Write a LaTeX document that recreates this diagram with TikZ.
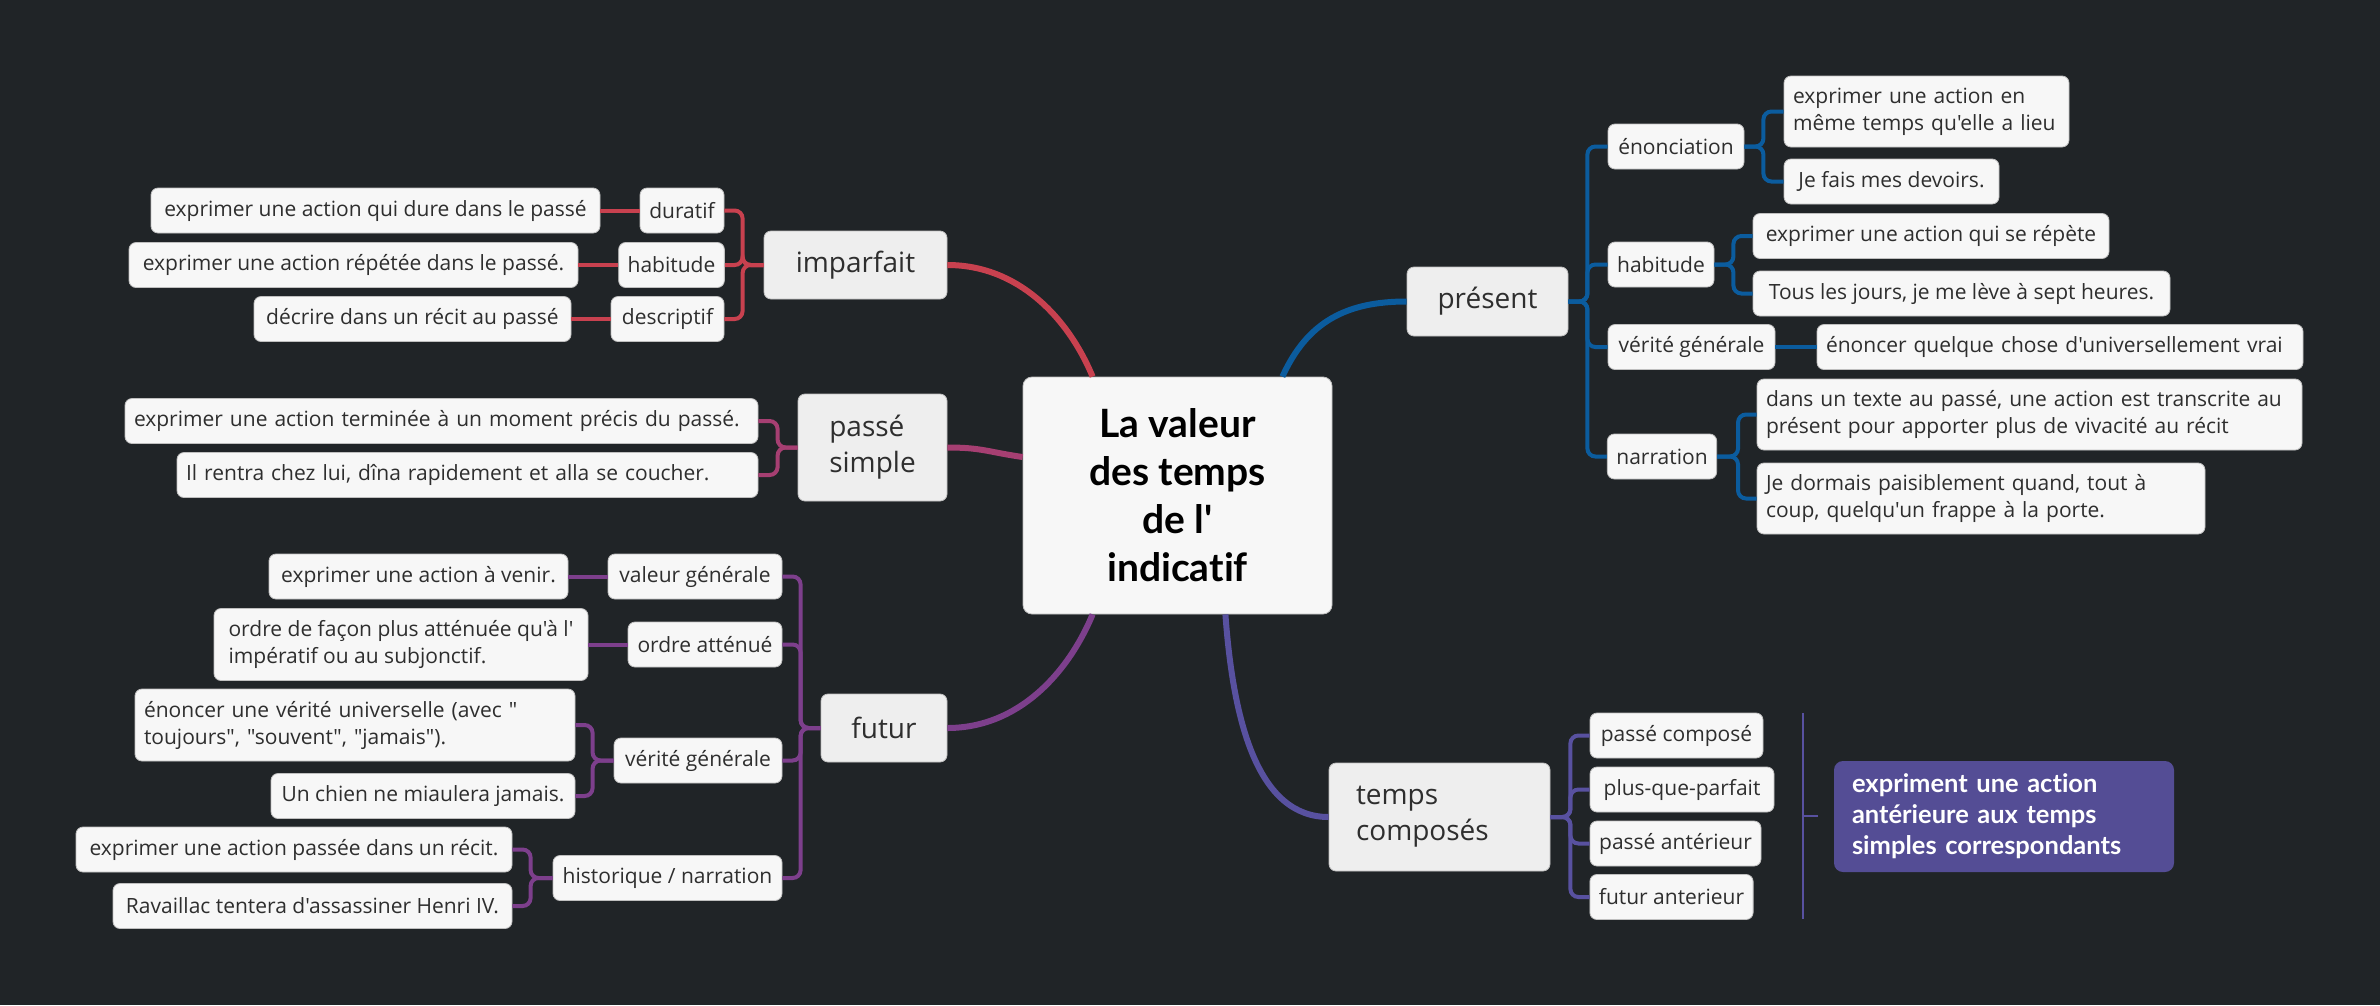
\documentclass[tikz,border=0pt]{standalone}
\usepackage{fontspec}
\usepackage{xcolor}
\newfontfamily\opensans{Open Sans}
\newfontfamily\lato[Ligatures=NoCommon]{Lato}
\definecolor{bgdark}{HTML}{202427}
\definecolor{leafbg}{HTML}{F7F7F7}
\definecolor{topicbg}{HTML}{EEEEEE}
\definecolor{ink}{HTML}{2E2E2E}
\definecolor{impred}{HTML}{C8414F}
\definecolor{psrose}{HTML}{A63F72}
\definecolor{futviolet}{HTML}{7D3F8C}
\definecolor{presblue}{HTML}{0B5C9E}
\definecolor{tcindigo}{HTML}{5851A0}
\definecolor{sumfill}{HTML}{544D95}

\begin{document}
\begin{tikzpicture}[x=1pt,y=-1pt,
  leaf/.style={draw=gray!50,line width=0.8pt,fill=leafbg,rounded corners=7pt,text=ink,
    font=\opensans\fontsize{21}{27}\selectfont,inner xsep=9pt,inner ysep=0pt,minimum height=45pt,align=left},
  topic/.style={leaf,fill=topicbg,font=\opensans\fontsize{28}{36}\selectfont},
  impline/.style={impred,line width=4pt,rounded corners=8pt},
  psline/.style={psrose,line width=4pt,rounded corners=8pt},
  futline/.style={futviolet,line width=4pt,rounded corners=8pt},
  presline/.style={presblue,line width=4pt,rounded corners=8pt},
  tcline/.style={tcindigo,line width=4pt,rounded corners=8pt},
  trunk/.style={line width=6pt}]
\fill[bgdark] (0,0) rectangle (2380,1005);

\node[draw=gray!50,line width=0.8pt,fill=leafbg,rounded corners=9pt,text=black,align=center,
  font=\lato\bfseries\fontsize{39}{48}\selectfont,minimum width=309pt,minimum height=237pt]
  (root) at (1177.5,495.5) {La valeur\\des temps\\de l'\\indicatif};

\node[topic,minimum width=183pt,minimum height=68pt] (imp) at (855.5,265) {imparfait};
\node[leaf,minimum width=84pt] (dur) at (682,210.5) {duratif};
\node[leaf,minimum width=105pt] (hab) at (671.5,265) {habitude};
\node[leaf,minimum width=113pt] (desc) at (667.5,319) {descriptif};
\node[leaf,minimum width=449pt] (durA) at (375.5,210.5) {exprimer une action qui dure dans le passé};
\node[leaf,minimum width=449pt] (habA) at (353.5,265) {exprimer une action répétée dans le passé.};
\node[leaf,minimum width=317pt] (descA) at (412.5,319) {décrire dans un récit au passé};
\foreach \c in {dur,hab,desc}
  \draw[impline] (imp.west) -- ++(-21,0) |- (\c.east);
\foreach \a/\b in {dur/durA,hab/habA,desc/descA}
  \draw[impline] (\a.west) -- (\b.east);

\node[topic,minimum width=149pt,minimum height=107pt] (ps) at (872.5,447.5) {passé\\simple};
\node[leaf,text width=615pt] (psA) at (441.5,421) {exprimer une action terminée à un moment précis du passé.};
\node[leaf,text width=563pt] (psB) at (467.5,475) {Il rentra chez lui, dîna rapidement et alla se coucher.};
\foreach \c in {psA,psB}
  \draw[psline] (ps.west) -- ++(-20,0) |- (\c.east);

\node[topic,minimum width=126pt,minimum height=68pt] (fut) at (884,728) {futur};
\node[leaf,minimum width=174pt] (fval) at (695,576.5) {valeur générale};
\node[leaf,minimum width=154pt] (ford) at (705,644.5) {ordre atténué};
\node[leaf,minimum width=168pt] (fver) at (698,760.5) {vérité générale};
\node[leaf,minimum width=229pt] (fhis) at (667.5,878) {historique / narration};
\node[leaf,minimum width=299pt] (fvalA) at (418.5,576.5) {exprimer une action à venir.};
\node[leaf,minimum width=374pt,minimum height=72pt] (fordA) at (401,644.5) {ordre de façon plus atténuée qu'à l'\\impératif ou au subjonctif.};
\node[leaf,text width=422pt,minimum height=72pt] (fverA) at (355,725) {énoncer une vérité universelle (avec "\\toujours", "souvent", "jamais").};
\node[leaf,minimum width=304pt] (fverB) at (423,796) {Un chien ne miaulera jamais.};
\node[leaf,minimum width=436pt] (fhisA) at (294,849.5) {exprimer une action passée dans un récit.};
\node[leaf,minimum width=399pt] (fhisB) at (312.5,906) {Ravaillac tentera d'assassiner Henri IV.};
\foreach \c in {fval,ford,fver,fhis}
  \draw[futline] (fut.west) -- ++(-20,0) |- (\c.east);
\draw[futline] (fval.west) -- (fvalA.east);
\draw[futline] (ford.west) -- (fordA.east);
\foreach \c in {fverA,fverB}
  \draw[futline] (fver.west) -- ++(-21,0) |- (\c.east);
\foreach \c in {fhisA,fhisB}
  \draw[futline] (fhis.west) -- ++(-22,0) |- (\c.east);

\node[topic,minimum width=161pt,minimum height=69pt] (pres) at (1487.5,301.5) {présent};
\node[leaf,minimum width=136pt] (penon) at (1676,146.5) {énonciation};
\node[leaf,minimum width=106pt] (phab) at (1661,264.5) {habitude};
\node[leaf,minimum width=167pt] (pver) at (1691.5,347) {vérité générale};
\node[leaf,minimum width=108pt] (pnar) at (1662,456.5) {narration};
\node[leaf,text width=267pt,minimum height=71pt] (penonA) at (1926.5,111.5) {exprimer une action en\\même temps qu'elle a lieu};
\node[leaf,minimum width=215pt] (penonB) at (1891.5,181.5) {Je fais mes devoirs.};
\node[leaf,minimum width=356pt] (phabA) at (1931,236) {exprimer une action qui se répète};
\node[leaf,minimum width=417pt] (phabB) at (1961.5,293.5) {Tous les jours, je me lève à sept heures.};
\node[leaf,text width=468pt] (pverA) at (2060,347) {énoncer quelque chose d'universellement vrai};
\node[leaf,text width=527pt,minimum height=71pt] (pnarA) at (2029.5,414.5) {dans un texte au passé, une action est transcrite au\\présent pour apporter plus de vivacité au récit};
\node[leaf,text width=430pt,minimum height=71pt] (pnarB) at (1981,498.5) {Je dormais paisiblement quand, tout à\\coup, quelqu'un frappe à la porte.};
\foreach \c in {penon,phab,pver,pnar}
  \draw[presline] (pres.east) -- ++(19,0) |- (\c.west);
\foreach \c in {penonA,penonB}
  \draw[presline] (penon.east) -- ++(19,0) |- (\c.west);
\foreach \c in {phabA,phabB}
  \draw[presline] (phab.east) -- ++(19,0) |- (\c.west);
\draw[presline] (pver.east) -- (pverA.west);
\foreach \c in {pnarA,pnarB}
  \draw[presline] (pnar.east) -- ++(21,0) |- (\c.west);

\node[topic,text width=167pt,inner xsep=27pt,minimum height=108pt] (tc) at (1439.5,817) {temps\\composés};
\node[leaf,minimum width=173pt] (tcA) at (1676.5,735.5) {passé composé};
\node[leaf,minimum width=184pt] (tcB) at (1682,789.5) {plus-que-parfait};
\node[leaf,minimum width=171pt] (tcC) at (1675.5,843.5) {passé antérieur};
\node[leaf,minimum width=163pt] (tcD) at (1671.5,897) {futur anterieur};
\foreach \c in {tcA,tcB,tcC,tcD}
  \draw[tcline] (tc.east) -- ++(20,0) |- (\c.west);
\coordinate (sumtop) at (1803,713);
\coordinate (sumbot) at (1803,919);
\coordinate (sumtick) at (1803,816);
\draw[tcindigo,line width=2.5pt] (sumtop) -- (sumbot);
\draw[tcindigo,line width=2.5pt] (sumtick) -- ++(15,0);
\node[fill=sumfill,rounded corners=9pt,text=white,align=left,text width=304pt,inner xsep=18pt,
  minimum height=111pt,font=\lato\bfseries\fontsize{25.5}{31}\selectfont]
  (sum) at (2004,816.5) {expriment une action\\antérieure aux temps\\simples correspondants};

\draw[impred,trunk] (imp.east) .. controls +(70,0) and +(-25,-60) .. ([xshift=70pt]root.north west);
\draw[psrose,trunk] (ps.east) .. controls +(35,0) and +(-35,-5) .. ([yshift=38.5pt]root.west);
\draw[futviolet,trunk] (fut.east) .. controls +(70,0) and +(-25,60) .. ([xshift=70pt]root.south west);
\draw[presblue,trunk] ([xshift=-50pt]root.north east) .. controls +(25,-55) and +(-60,0) .. (pres.west);
\draw[tcindigo,trunk] ([xshift=-107pt]root.south east) .. controls +(8,110) and +(-70,0) .. (tc.west);
\end{tikzpicture}
\end{document}
